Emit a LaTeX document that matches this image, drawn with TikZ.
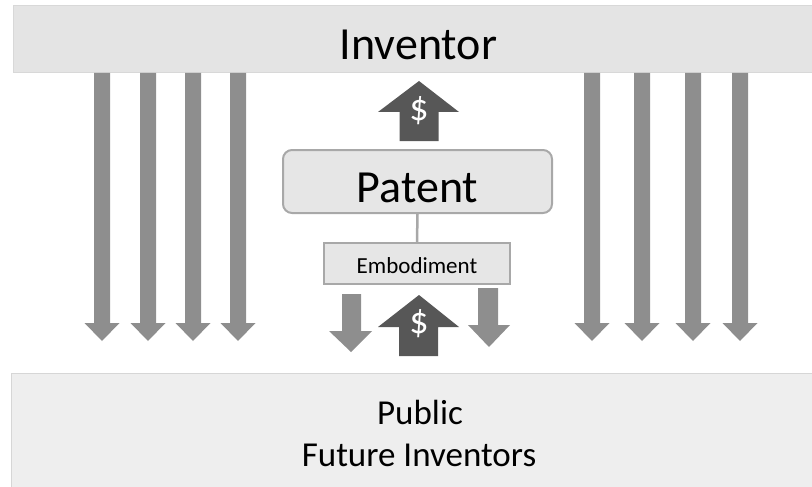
\documentclass[tikz,border=0pt]{standalone}
\usepackage{fontspec}
\setmainfont{Carlito}
\definecolor{bandtop}{HTML}{E4E4E4}
\definecolor{bandtopline}{HTML}{D8D8D8}
\definecolor{bandbot}{HTML}{EEEEEE}
\definecolor{bandbotline}{HTML}{D6D6D6}
\definecolor{tallgray}{HTML}{8E8E8E}
\definecolor{darkgray}{HTML}{575757}
\definecolor{boxfill}{HTML}{E6E6E6}
\definecolor{boxline}{HTML}{A8A8A8}
\begin{document}
\begin{tikzpicture}[x=1pt,y=-1pt,
  band/.style={draw=bandtopline, fill=bandtop, line width=1pt, inner sep=0pt, rectangle},
  patentbox/.style={draw=boxline, fill=boxfill, line width=2pt, rounded corners=9pt, inner sep=0pt,
     minimum width=269pt, minimum height=63pt, text height=41pt, text depth=0pt,
     font=\fontsize{46}{50}\selectfont},
  embbox/.style={draw=boxline, fill=boxfill, line width=1.8pt, inner sep=0pt,
     minimum width=186pt, minimum height=41pt, text height=19pt, text depth=0pt,
     font=\fontsize{23}{26}\selectfont},
  tallarrow/.style={fill=tallgray},
  dollararrow/.style={fill=darkgray},
  dollartext/.style={text=white, font=\fontsize{38}{40}\selectfont, inner sep=0pt},
  conn/.style={draw=boxline, line width=2.5pt}
]
\useasboundingbox (0,0) rectangle (812,487);
% bands
\node[band, minimum width=801pt, minimum height=67pt, text height=41pt, text depth=0pt,
      font=\fontsize{46}{50}\selectfont] (inventor) at (413.5,39.5) {\hspace*{10pt}Inventor};
\node[band, draw=bandbotline, fill=bandbot, minimum width=803pt, minimum height=116pt] (public) at (412.5,431) {};
\node[anchor=base, font=\fontsize{35}{40}\selectfont, inner sep=0pt] (publictext) at (420,424) {Public};
\node[anchor=base, font=\fontsize{35}{40}\selectfont, inner sep=0pt] (futuretext) at (419,466) {Future Inventors};
% tall arrows
\foreach \cx in {102,148,193,238,592,642,693,740} {
  \fill[tallarrow] ({\cx-8},73) -- ({\cx+8},73) -- ({\cx+8},323) -- ({\cx+17.5},323)
     -- (\cx,341) -- ({\cx-17.5},323) -- ({\cx-8},323) -- cycle;
}
% boxes
\node[patentbox] (patent) at (417.5,181.5) {Patent};
\node[embbox] (emb) at (417,263.5) {Embodiment};
\draw[conn] (patent.south) -- (emb.north);
% top dollar arrow
\fill[dollararrow] (399.5,141) -- (438.5,141) -- (438.5,112) -- (459,112) -- (419,81)
   -- (378,112) -- (399.5,112) -- cycle;
\node[dollartext] (dollartop) at (419,110.5) {\$};
% bottom dollar arrow
\fill[dollararrow] (399,356) -- (438,356) -- (438,327) -- (459,327) -- (419,295)
   -- (378,327) -- (399,327) -- cycle;
\node[dollartext] (dollarbot) at (419,324) {\$};
% small down arrows
\fill[tallarrow] (342,294) -- (361,294) -- (361,331) -- (372,331) -- (351,352)
   -- (329,331) -- (342,331) -- cycle;
\fill[tallarrow] (478,288) -- (498,288) -- (498,325) -- (510,325) -- (489,347)
   -- (468,325) -- (478,325) -- cycle;
\end{tikzpicture}
\end{document}
